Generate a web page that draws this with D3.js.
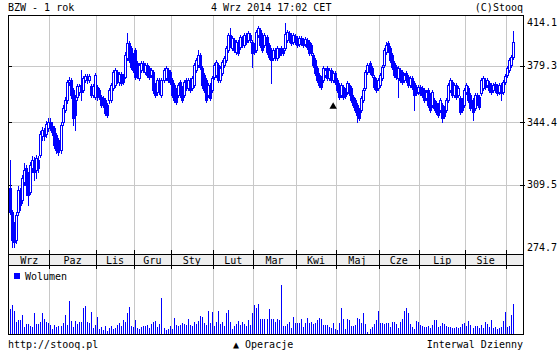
<!DOCTYPE html>
<html>
<head>
<meta charset="utf-8">
<script src="https://cdn.jsdelivr.net/npm/d3@7"></script>
<style>
  body { margin: 0; background: #fff; }
  svg text { font-family: "DejaVu Sans Mono", monospace; font-size: 10px; fill: #000; }
</style>
</head>
<body>
<div id="vis-container"></div>
<script>
// month cells of the date band (last one, 4 days of Sep 2014, has no label)
const monthLabels = ["Wrz", "Paz", "Lis", "Gru", "Sty", "Lut", "Mar", "Kwi", "Maj", "Cze", "Lip", "Sie", ""];
const monthDays = [20, 23, 19, 18, 21, 20, 21, 20, 21, 20, 23, 20, 4];

const priceTicks = [414.1, 379.3, 344.4, 309.5, 274.7];

// daily candles, 4 Sep 2013 - 4 Sep 2014 (one line per month)
const open = [
  307.7, 295.3, 287.3, 281.4, 295.3, 305.6, 301.4, 310.9, 318.4, 314.6, 305.6, 318.4, 322.8, 317.3, 322.8, 325.6, 336.4, 339.9, 337.6, 341.1,
  344.6, 342.2, 341.1, 337.0, 334.1, 328.4, 344.6, 351.8, 357.9, 369.1, 370.4, 364.1, 357.9, 359.7, 362.8, 367.2, 364.1, 370.4, 372.9, 370.4, 366.6, 361.0, 359.7,
  365.9, 364.1, 359.7, 359.1, 357.9, 354.8, 357.9, 357.9, 365.3, 367.2, 375.5, 369.1, 374.2, 372.9, 372.3, 384.6, 394.7, 391.3, 386.6,
  390.0, 381.4, 371.6, 376.8, 381.4, 375.5, 380.0, 378.1, 373.6, 375.5, 367.2, 362.8, 370.4, 361.0, 370.4, 371.6, 376.8, 375.5,
  370.4, 367.2, 364.1, 361.0, 369.1, 365.3, 361.0, 370.4, 365.3, 370.4, 365.3, 367.2, 376.8, 380.0, 386.6, 378.1, 373.6, 370.4, 361.0, 367.2, 364.1,
  372.3, 373.6, 380.0, 370.4, 374.8, 380.0, 383.3, 390.0, 400.1, 391.3, 396.7, 388.6, 395.3, 392.0, 398.0, 393.3, 400.1, 396.7, 400.1, 395.3,
  393.3, 390.0, 400.1, 403.6, 400.1, 393.3, 398.7, 393.3, 390.0, 384.6, 390.0, 384.6, 390.0, 391.3, 390.0, 391.3, 396.7, 401.5, 400.1, 395.3, 399.4,
  398.0, 394.0, 398.0, 396.7, 394.0, 396.7, 395.3, 393.3, 386.6, 383.3, 378.1, 373.6, 371.6, 370.4, 373.6, 378.1, 371.6, 376.8, 370.4, 374.8,
  370.4, 367.2, 361.0, 365.9, 364.1, 362.8, 367.2, 365.3, 359.7, 357.9, 354.8, 351.8, 351.8, 357.9, 365.3, 375.5, 381.4, 378.1, 372.3, 370.4, 365.3,
  367.2, 371.6, 380.0, 388.6, 394.7, 391.3, 386.6, 381.4, 378.7, 371.6, 376.8, 375.5, 370.4, 374.8, 372.3, 367.2, 371.6, 368.5, 365.9, 362.8,
  365.9, 365.3, 364.1, 359.1, 364.1, 361.0, 354.8, 357.9, 356.0, 354.8, 351.8, 354.8, 353.0, 351.8, 357.9, 364.1, 369.1, 361.0, 367.2, 361.0, 359.1, 357.9, 354.8,
  362.8, 365.3, 361.0, 357.9, 353.0, 361.0, 359.7, 362.2, 365.3, 370.4, 367.2, 368.5, 367.2, 364.1, 367.8, 366.6, 362.8, 367.2, 362.8, 369.1,
  373.6, 376.8, 380.0, 385.3
];
const high = [
  322.8, 296.3, 290.2, 295.3, 308.7, 307.7, 314.6, 321.2, 320.1, 316.3, 321.7, 325.1, 324.5, 325.6, 325.1, 339.3, 341.7, 341.1, 345.2, 347.0,
  347.0, 344.6, 342.2, 338.2, 335.3, 344.6, 354.8, 359.7, 370.4, 372.3, 371.6, 365.3, 361.0, 367.8, 367.8, 376.8, 372.9, 374.2, 374.2, 374.2, 367.8, 367.8, 374.8,
  367.2, 365.3, 361.0, 360.3, 359.1, 356.0, 365.3, 368.5, 376.8, 378.1, 376.8, 375.5, 375.5, 374.2, 388.6, 401.5, 396.0, 392.6, 387.9,
  391.3, 382.7, 381.4, 382.7, 382.7, 381.4, 381.4, 379.4, 378.1, 376.8, 368.5, 371.6, 371.6, 371.6, 378.1, 379.4, 378.1, 376.8,
  371.6, 368.5, 365.3, 368.5, 370.4, 366.6, 370.4, 371.6, 371.6, 371.6, 372.9, 381.4, 384.6, 390.0, 387.9, 379.4, 374.8, 371.6, 368.5, 368.5, 372.9,
  381.4, 383.3, 381.4, 379.4, 383.3, 385.9, 392.6, 401.5, 404.9, 399.4, 398.0, 396.7, 396.7, 400.1, 399.4, 401.5, 401.5, 402.9, 401.5, 396.7,
  394.7, 403.6, 406.4, 404.9, 401.5, 401.5, 400.1, 394.7, 391.3, 391.3, 391.3, 392.6, 391.3, 392.6, 391.3, 408.5, 403.6, 402.9, 401.5, 401.5, 400.8,
  399.4, 399.4, 399.4, 398.0, 398.7, 398.0, 396.7, 394.7, 387.9, 384.6, 379.4, 374.8, 372.9, 379.4, 378.1, 379.4, 378.1, 378.1, 376.1, 376.1,
  371.6, 368.5, 368.5, 367.2, 365.3, 369.7, 368.5, 366.6, 361.0, 359.1, 356.0, 353.0, 360.3, 365.3, 376.8, 381.4, 382.7, 379.4, 373.6, 371.6, 371.6,
  374.8, 380.0, 391.3, 395.3, 396.0, 392.6, 387.9, 382.7, 380.0, 379.4, 378.1, 376.8, 374.8, 376.1, 373.6, 372.9, 372.9, 369.7, 367.2, 367.2,
  367.2, 366.6, 365.3, 364.1, 365.3, 362.2, 364.1, 359.1, 357.3, 356.0, 359.1, 356.0, 354.2, 359.1, 368.5, 371.6, 370.4, 368.5, 368.5, 366.6, 360.3, 359.1, 365.3,
  368.5, 366.6, 362.2, 359.1, 362.2, 362.2, 361.0, 371.6, 372.9, 371.6, 371.6, 369.7, 368.5, 368.5, 369.1, 367.8, 368.5, 368.5, 370.4, 374.2,
  379.4, 384.6, 386.6, 402.9
];
const low = [
  294.3, 278.0, 278.0, 279.9, 293.7, 296.3, 299.8, 309.3, 304.0, 298.8, 304.5, 316.3, 311.9, 313.0, 316.3, 324.5, 334.1, 334.1, 335.8, 339.3,
  339.9, 337.0, 329.6, 326.7, 325.6, 326.7, 342.8, 350.6, 356.0, 367.2, 359.1, 342.8, 339.9, 357.9, 361.0, 357.9, 362.8, 369.1, 368.5, 369.1, 359.7, 359.7, 358.5,
  357.9, 358.5, 353.6, 353.6, 348.8, 347.6, 356.0, 356.6, 364.1, 365.9, 368.5, 367.2, 367.2, 367.8, 371.6, 383.3, 382.0, 377.4, 375.5,
  371.0, 371.6, 370.4, 375.5, 375.5, 374.2, 372.3, 371.0, 372.3, 362.2, 359.7, 361.0, 361.6, 359.7, 369.1, 370.4, 369.1, 367.8,
  359.7, 356.6, 355.4, 359.7, 359.7, 356.6, 359.7, 364.1, 364.1, 362.8, 364.1, 365.9, 375.5, 378.7, 377.4, 365.3, 362.8, 356.6, 359.7, 357.9, 362.8,
  371.0, 372.3, 369.1, 369.1, 373.6, 378.7, 382.0, 388.6, 392.0, 390.0, 388.6, 387.3, 386.6, 390.6, 392.0, 392.0, 394.0, 395.3, 395.3, 378.7,
  387.3, 388.6, 398.7, 392.0, 388.6, 392.0, 387.3, 384.0, 368.5, 383.3, 383.3, 383.3, 385.3, 386.6, 386.6, 390.0, 395.3, 395.3, 393.3, 394.0, 394.0,
  392.0, 392.6, 393.3, 392.0, 392.6, 390.6, 386.6, 386.6, 378.7, 373.6, 369.1, 365.9, 364.7, 369.1, 372.3, 370.4, 370.4, 369.1, 369.1, 367.8,
  362.8, 358.5, 359.7, 358.5, 359.1, 361.6, 361.0, 356.6, 353.6, 350.6, 344.6, 345.8, 350.6, 356.6, 364.1, 374.2, 374.2, 372.3, 364.7, 362.8, 364.1,
  365.9, 370.4, 378.7, 387.3, 388.6, 382.0, 377.4, 372.3, 371.0, 359.7, 369.1, 367.8, 369.1, 369.1, 365.9, 365.9, 364.7, 351.8, 361.0, 361.6,
  361.0, 359.7, 356.6, 357.9, 353.6, 350.6, 353.6, 351.8, 349.4, 347.6, 350.6, 344.6, 347.0, 350.6, 356.6, 362.8, 359.7, 359.7, 358.5, 359.7, 349.4, 350.6, 353.6,
  361.6, 356.6, 351.8, 345.8, 351.8, 354.8, 352.4, 361.0, 364.1, 364.7, 365.9, 362.8, 361.6, 362.8, 362.8, 361.0, 361.6, 357.9, 361.6, 367.8,
  372.3, 375.5, 378.7, 384.0
];
const close = [
  295.3, 281.4, 280.4, 293.7, 306.6, 298.8, 313.0, 317.3, 309.3, 304.0, 320.1, 322.8, 316.3, 324.0, 318.4, 337.6, 339.9, 336.4, 343.4, 344.6,
  341.1, 338.7, 331.3, 328.4, 327.3, 342.8, 353.0, 357.9, 369.1, 370.4, 361.0, 347.0, 348.8, 366.6, 366.6, 362.8, 371.6, 372.9, 370.4, 372.9, 361.0, 366.6, 373.6,
  359.7, 359.7, 354.8, 354.8, 350.0, 348.8, 364.1, 367.2, 375.5, 376.8, 370.4, 374.2, 368.5, 369.1, 386.6, 394.7, 383.3, 378.7, 376.8,
  372.3, 373.6, 380.0, 381.4, 376.8, 380.0, 373.6, 372.3, 376.8, 364.1, 361.0, 370.4, 362.8, 370.4, 376.8, 378.1, 370.4, 369.1,
  361.0, 357.9, 356.6, 367.2, 361.0, 357.9, 369.1, 365.3, 370.4, 364.1, 371.6, 380.0, 383.3, 386.6, 378.7, 367.2, 364.1, 357.9, 367.2, 359.1, 371.6,
  380.0, 382.0, 370.4, 378.1, 382.0, 384.6, 391.3, 400.1, 393.3, 398.0, 390.0, 395.3, 387.9, 398.7, 393.3, 400.1, 395.3, 401.5, 396.7, 387.9,
  388.6, 402.2, 404.9, 393.3, 390.0, 400.1, 388.6, 385.3, 383.3, 390.0, 384.6, 391.3, 386.6, 387.9, 387.9, 400.8, 402.2, 396.7, 394.7, 400.1, 395.3,
  393.3, 398.0, 394.7, 393.3, 397.4, 392.0, 387.9, 387.9, 380.0, 374.8, 370.4, 367.2, 365.9, 378.1, 376.8, 371.6, 376.8, 370.4, 374.8, 369.1,
  364.1, 359.7, 367.2, 359.7, 360.3, 368.5, 362.2, 357.9, 354.8, 351.8, 348.8, 347.0, 359.1, 364.1, 375.5, 380.0, 375.5, 373.6, 365.9, 364.1, 370.4,
  373.6, 378.7, 390.0, 393.3, 390.0, 383.3, 378.7, 373.6, 372.3, 378.1, 370.4, 369.1, 373.6, 370.4, 367.2, 371.6, 365.9, 361.0, 362.2, 365.9,
  362.2, 361.0, 357.9, 362.8, 354.8, 351.8, 362.8, 353.0, 350.6, 348.8, 357.9, 347.0, 348.2, 357.9, 367.2, 370.4, 361.0, 367.2, 359.7, 365.3, 350.6, 351.8, 364.1,
  367.2, 357.9, 353.0, 350.6, 361.0, 356.0, 353.6, 370.4, 371.6, 365.9, 370.4, 364.1, 362.8, 367.2, 364.1, 362.2, 367.2, 362.2, 369.1, 372.9,
  378.1, 383.3, 385.3, 395.3
];
// volume, thousands of shares
const volume = [
  50, 58, 46, 24, 28, 28, 38, 14, 20, 20, 16, 14, 42, 20, 20, 24, 42, 30, 24, 22,
  18, 10, 18, 14, 16, 16, 22, 38, 18, 66, 26, 14, 26, 20, 24, 24, 52, 56, 24, 22, 44, 12, 18,
  34, 10, 14, 8, 16, 6, 12, 16, 10, 12, 18, 22, 16, 28, 24, 42, 54, 16, 14,
  28, 12, 10, 14, 16, 16, 18, 12, 20, 24, 26, 14, 20, 72, 12, 8, 10, 16,
  10, 32, 18, 16, 18, 22, 20, 18, 30, 18, 16, 24, 20, 26, 36, 34, 22, 18, 46, 22, 44,
  16, 24, 46, 20, 24, 16, 42, 48, 24, 10, 16, 20, 26, 18, 24, 20, 16, 28, 18, 42,
  58, 52, 60, 30, 30, 30, 30, 50, 30, 30, 24, 30, 28, 98, 16, 16, 20, 24, 12, 34, 22,
  22, 22, 30, 14, 22, 32, 22, 24, 20, 22, 28, 32, 30, 18, 18, 18, 14, 12, 22, 10,
  8, 22, 52, 30, 10, 30, 28, 16, 16, 18, 32, 30, 22, 42, 20, 4, 10, 14, 20, 28, 46,
  22, 22, 20, 22, 22, 14, 24, 24, 20, 12, 24, 30, 46, 52, 42, 20, 14, 10, 26, 24,
  18, 16, 14, 14, 16, 12, 18, 28, 28, 14, 16, 22, 20, 16, 14, 14, 12, 12, 14, 12, 14, 20, 22,
  16, 26, 18, 12, 16, 16, 12, 18, 12, 24, 20, 14, 28, 12, 14, 10, 12, 14, 26, 44,
  14, 16, 38, 60
];

// operation marker (dividend) - trading day index and price level
const opIndex = [160];
const opPrice = [353.8];

const width = 560;
const height = 350;
const plot = { left: 8, right: 523, top: 15, bottom: 254 };
const bandBottom = 265;
const volBottom = 334;
const blue = "#0000ff";
const gridColor = "#c8c8c8";

const svg = d3.select("#vis-container")
  .append("svg")
    .attr("width", width)
    .attr("height", height)
    .attr("shape-rendering", "crispEdges");

// scales
const x = d3.scaleLinear().domain([-1, 254]).range([plot.left, plot.right]);
const y = d3.scaleLog().domain([274.7, 414.1]).range([plot.bottom, plot.top]);
const yVol = d3.scaleLinear().domain([0, 140]).range([volBottom, volBottom - 70]);

const px = i => Math.round(x(i));
const py = v => Math.round(y(v));

// month boundaries between trading days
const ends = d3.cumsum(monthDays);
const bounds = Array.from(ends).slice(0, -1).map(e => e - 0.5);
const cells = monthLabels.map((m, k) => ({
  label: m,
  from: k === 0 ? -0.5 : ends[k - 1] - 0.5,
  to: ends[k] - 0.5
}));

// vertical grid, price panel + volume panel
bounds.forEach(b => {
  const gx = Math.round(x(b)) + 0.5;
  svg.append("line").attr("x1", gx).attr("x2", gx).attr("y1", plot.top).attr("y2", 250).attr("stroke", gridColor);
  svg.append("line").attr("x1", gx).attr("x2", gx).attr("y1", 250).attr("y2", plot.bottom).attr("stroke", "#000");
  svg.append("line").attr("x1", gx).attr("x2", gx).attr("y1", bandBottom).attr("y2", 269).attr("stroke", "#000");
  svg.append("line").attr("x1", gx).attr("x2", gx).attr("y1", 269).attr("y2", volBottom).attr("stroke", gridColor);
});

// horizontal grid
const inner = priceTicks.slice(1, -1);
inner.forEach(v => {
  const gy = py(v) + 0.5;
  svg.append("line").attr("x1", plot.left).attr("x2", plot.right).attr("y1", gy).attr("y2", gy).attr("stroke", gridColor);
  svg.append("line").attr("x1", plot.left).attr("x2", plot.left + 4).attr("y1", gy).attr("y2", gy).attr("stroke", "#000");
  svg.append("line").attr("x1", plot.right - 3).attr("x2", plot.right + 2).attr("y1", gy).attr("y2", gy).attr("stroke", "#000");
});

// candles
const days = d3.range(close.length);
const candles = svg.append("g");
days.forEach(i => {
  const cx = px(i);
  candles.append("rect")
    .attr("x", cx).attr("width", 1)
    .attr("y", py(high[i]))
    .attr("height", py(low[i]) - py(high[i]) + 1)
    .attr("fill", blue);
  const top = py(Math.max(open[i], close[i]));
  const bot = py(Math.min(open[i], close[i]));
  if (close[i] >= open[i]) {
    candles.append("rect")
      .attr("x", cx - 0.5).attr("y", top + 0.5)
      .attr("width", 2).attr("height", Math.max(bot - top, 1))
      .attr("fill", "#fff").attr("stroke", blue);
  } else {
    candles.append("rect")
      .attr("x", cx - 1).attr("y", top)
      .attr("width", 3).attr("height", bot - top + 1)
      .attr("fill", blue);
  }
});

// operation marker
svg.selectAll(".op")
  .data(opIndex)
  .enter()
  .append("path")
    .attr("class", "op")
    .attr("d", d3.symbol(d3.symbolTriangle, 24))
    .attr("transform", (d, k) => `translate(${x(d)},${y(opPrice[k])})`)
    .attr("fill", "#000")
    .attr("shape-rendering", "auto");

// price panel frame
svg.append("rect")
  .attr("x", plot.left + 0.5).attr("y", plot.top + 0.5)
  .attr("width", plot.right - plot.left).attr("height", plot.bottom - plot.top)
  .attr("fill", "none").attr("stroke", "#000");

// right axis labels
const yAxis = svg.append("g")
  .attr("transform", `translate(${plot.right},0)`)
  .call(d3.axisRight(y).tickValues(priceTicks).tickSize(0).tickPadding(4).tickFormat(d3.format(".1f")));
yAxis.select(".domain").remove();
yAxis.attr("font-family", null).attr("font-size", null);
yAxis.selectAll(".tick")
  .attr("transform", d => `translate(0,${Math.min(Math.max(y(d), 23), 247.5)})`);

// date band
svg.append("rect")
  .attr("x", plot.left + 0.5).attr("y", plot.bottom + 0.5)
  .attr("width", plot.right - plot.left).attr("height", bandBottom - plot.bottom)
  .attr("fill", "#eeeeee").attr("stroke", "#000");
bounds.forEach(b => {
  const gx = Math.round(x(b)) + 0.5;
  svg.append("line").attr("x1", gx).attr("x2", gx).attr("y1", plot.bottom).attr("y2", bandBottom).attr("stroke", "#000");
});
svg.selectAll(".month")
  .data(cells.filter(c => c.label))
  .enter()
  .append("text")
    .attr("class", "month")
    .attr("x", c => (x(c.from) + x(c.to)) / 2)
    .attr("y", 260)
    .attr("text-anchor", "middle")
    .attr("dominant-baseline", "central")
    .text(c => c.label);

// volume bars
svg.append("g")
  .selectAll("rect")
  .data(volume)
  .enter()
  .append("rect")
    .attr("x", (d, i) => px(i))
    .attr("y", d => Math.round(yVol(d)))
    .attr("width", 1)
    .attr("height", d => volBottom - Math.round(yVol(d)))
    .attr("fill", blue);

// volume panel frame
svg.append("path")
  .attr("d", `M${plot.left + 0.5},${bandBottom} V${volBottom + 0.5} H${plot.right + 0.5} V${bandBottom}`)
  .attr("fill", "none").attr("stroke", "#000");

// legend
svg.append("rect").attr("x", 14).attr("y", 273).attr("width", 6).attr("height", 6).attr("fill", blue);
svg.append("text").attr("x", 25).attr("y", 276).attr("dominant-baseline", "central").text("Wolumen");

// header and footer
svg.append("text").attr("x", 8).attr("y", 7).attr("dominant-baseline", "central").text("BZW - 1 rok");
svg.append("text").attr("x", 211).attr("y", 7).attr("dominant-baseline", "central").text("4 Wrz 2014 17:02 CET");
svg.append("text").attr("x", 523).attr("y", 7).attr("text-anchor", "end").attr("dominant-baseline", "central").text("(C)Stooq");
svg.append("text").attr("x", 8).attr("y", 344).attr("dominant-baseline", "central").text("http://stooq.pl");
svg.append("text").attr("x", 233).attr("y", 344).attr("dominant-baseline", "central").text("▲ Operacje");
svg.append("text").attr("x", 523).attr("y", 344).attr("text-anchor", "end").attr("dominant-baseline", "central").text("Interwal Dzienny");
</script>
</body>
</html>
